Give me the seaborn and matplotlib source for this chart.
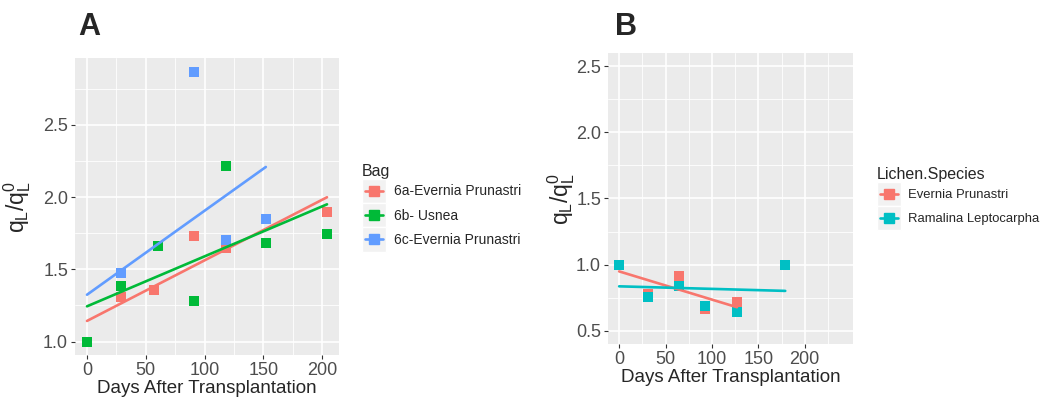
import numpy as np
import pandas as pd
import matplotlib
matplotlib.use("Agg")
import matplotlib.pyplot as plt
import seaborn as sns
from matplotlib.legend_handler import HandlerBase
from matplotlib.patches import Rectangle
from matplotlib.lines import Line2D

# ---- panel A data (bags) ----
bag_labels = ["6a-Evernia Prunastri", "6b- Usnea", "6c-Evernia Prunastri"]
days_6a = [0, 29, 57, 91, 118, 204]
ratio_6a = [1.00, 1.31, 1.36, 1.73, 1.65, 1.90]
days_6b = [0, 29, 60, 91, 118, 152, 204]
ratio_6b = [1.00, 1.385, 1.66, 1.28, 2.215, 1.685, 1.745]
days_6c = [0, 29, 91, 118, 152]
ratio_6c = [1.00, 1.475, 2.87, 1.70, 1.845]

# ---- panel B data (species) ----
species_labels = ["Evernia Prunastri", "Ramalina Leptocarpha"]
days_ep = [0, 31, 64, 92, 127]
ratio_ep = [1.00, 0.78, 0.915, 0.665, 0.715]
days_rl = [0, 31, 64, 92, 127, 179]
ratio_rl = [1.00, 0.757, 0.837, 0.687, 0.645, 0.995]

df_a = pd.concat([
    pd.DataFrame({"days": days_6a, "ratio": ratio_6a, "Bag": bag_labels[0]}),
    pd.DataFrame({"days": days_6b, "ratio": ratio_6b, "Bag": bag_labels[1]}),
    pd.DataFrame({"days": days_6c, "ratio": ratio_6c, "Bag": bag_labels[2]}),
])
df_b = pd.concat([
    pd.DataFrame({"days": days_ep, "ratio": ratio_ep, "Lichen.Species": species_labels[0]}),
    pd.DataFrame({"days": days_rl, "ratio": ratio_rl, "Lichen.Species": species_labels[1]}),
])

colors_a = dict(zip(bag_labels, ["#F8766D", "#00BA38", "#619CFF"]))
colors_b = dict(zip(species_labels, ["#F8766D", "#00BFC4"]))
point_order_a = [bag_labels[0], bag_labels[2], bag_labels[1]]

sns.set_style("darkgrid", {"axes.facecolor": "#EBEBEB", "grid.color": "white"})
plt.rcParams["font.family"] = ["Liberation Sans", "DejaVu Sans"]
plt.rcParams["mathtext.fontset"] = "custom"
plt.rcParams["mathtext.rm"] = "Liberation Sans"
plt.rcParams["mathtext.it"] = "Liberation Sans"

fig = plt.figure(figsize=(10.45, 3.98), dpi=100)
ax_a = fig.add_axes([75 / 1045, 1 - 355 / 398, 264 / 1045, 297 / 398])
ax_b = fig.add_axes([608 / 1045, 1 - 344 / 398, 245 / 1045, 291 / 398])

MS = 52
LW = 1.9


def ggplot_axes(ax, xlim, ylim, xticks, yticks, ylabels, ypad):
    dx = (xlim[1] - xlim[0]) * 0.05
    dy = (ylim[1] - ylim[0]) * 0.05
    ax.set_xticks(xticks)
    ax.set_yticks(yticks)
    ax.set_yticklabels(ylabels)
    sx = xticks[1] - xticks[0]
    sy = yticks[1] - yticks[0]
    xm = np.arange(xticks[0] - sx / 2, xticks[-1] + sx, sx)
    ym = np.arange(yticks[0] - sy / 2, yticks[-1] + sy, sy)
    ax.set_xticks(xm, minor=True)
    ax.set_yticks(ym, minor=True)
    ax.set_xlim(xlim[0] - dx, xlim[1] + dx)
    ax.set_ylim(ylim[0] - dy, ylim[1] + dy)
    ax.grid(which="major", color="white", lw=1.2)
    ax.grid(which="minor", color="white", lw=0.6)
    ax.tick_params(which="major", length=3, width=0.8, color="#333333",
                   labelsize=13, labelcolor="#4D4D4D", pad=2, bottom=True, left=True)
    ax.tick_params(which="minor", length=0)
    for s in ax.spines.values():
        s.set_visible(False)
    ax.set_xlabel("Days After Transplantation", fontsize=13.5, labelpad=1)
    ax.set_ylabel(r"$\mathrm{q_L/q_L^0}$", fontsize=16.5, labelpad=ypad)


# panel A points, then fitted lines
for bag in point_order_a:
    sub = df_a[df_a["Bag"] == bag]
    sns.scatterplot(data=sub, x="days", y="ratio", color=colors_a[bag], marker="s",
                    s=MS, linewidth=0, ax=ax_a, zorder=3)
for bag in bag_labels:
    sub = df_a[df_a["Bag"] == bag]
    sns.regplot(data=sub, x="days", y="ratio", scatter=False, ci=None, ax=ax_a,
                line_kws={"color": colors_a[bag], "lw": LW, "zorder": 4})
ggplot_axes(ax_a, (df_a["days"].min(), df_a["days"].max()),
            (df_a["ratio"].min(), df_a["ratio"].max()),
            [0, 50, 100, 150, 200], [1.0, 1.5, 2.0, 2.5], ["1.0", "1.5", "2.0", "2.5"], 7)

# panel B
for sp in species_labels:
    sub = df_b[df_b["Lichen.Species"] == sp]
    sns.scatterplot(data=sub, x="days", y="ratio", color=colors_b[sp], marker="s",
                    s=MS, linewidth=0, ax=ax_b, zorder=3)
for sp in species_labels:
    sub = df_b[df_b["Lichen.Species"] == sp]
    sns.regplot(data=sub, x="days", y="ratio", scatter=False, ci=None, ax=ax_b,
                line_kws={"color": colors_b[sp], "lw": LW, "zorder": 4})
ggplot_axes(ax_b, (0, 240), (0.5, 2.5),
            [0, 50, 100, 150, 200], [0.5, 1.0, 1.5, 2.0, 2.5],
            ["0.5", "1.0", "1.5", "2.0", "2.5"], -1)


class KeyHandler(HandlerBase):
    def create_artists(self, legend, orig_handle, xdescent, ydescent, width, height, fontsize, trans):
        c = orig_handle.get_color()
        bg = Rectangle((-xdescent, -ydescent), width, height, facecolor="#F2F2F2",
                       edgecolor="white", lw=1, transform=trans)
        yc = height / 2 - ydescent
        ln = Line2D([-xdescent + 2, width - xdescent - 2], [yc, yc], color=c, lw=LW, transform=trans)
        mk = Line2D([width / 2 - xdescent], [yc], marker="s", ms=7, color=c, lw=0, transform=trans)
        return [bg, ln, mk]


def add_legend(title, labels, cmap, x, y, fs):
    handles = [Line2D([], [], color=cmap[l]) for l in labels]
    leg = fig.legend(handles, labels, title=title, loc="upper left",
                     bbox_to_anchor=(x / 1045, 1 - y / 398), frameon=False,
                     handler_map={Line2D: KeyHandler()}, fontsize=fs,
                     title_fontsize=11.5, handlelength=1.7 * 10 / fs, handleheight=2.3 * 10 / fs,
                     labelspacing=0.0, handletextpad=0.6, borderpad=0, borderaxespad=0,
                     alignment="left")
    return leg


add_legend("Bag", bag_labels, colors_a, 362, 164, 10)
add_legend("Lichen.Species", species_labels, colors_b, 877, 167, 9.4)

fig.text(78 / 1045, 1 - 35 / 398, "A", fontsize=22, fontweight="bold", va="baseline")
fig.text(615 / 1045, 1 - 35 / 398, "B", fontsize=22, fontweight="bold", va="baseline")

fig.savefig("out.png", dpi=100)
